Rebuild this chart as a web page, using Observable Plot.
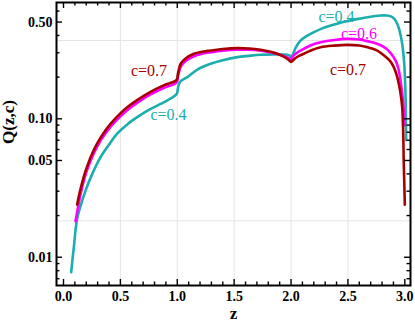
<!DOCTYPE html>
<html><head><meta charset="utf-8">
<script src="https://cdn.jsdelivr.net/npm/d3@7"></script>
<script src="https://cdn.jsdelivr.net/npm/@observablehq/plot@0.6"></script>
<style>html,body{margin:0;padding:0;background:#fff}#chart svg{display:block}</style>
</head><body><div id="chart"></div>
<script>
// ---- data ----
const z04 = [0.068,0.08,0.091,0.105,0.12,0.15,0.194,0.25,0.326,0.4,0.472,0.56,0.648,0.75,0.853,0.94,0.995,1.005,1.015,1.03,1.088,1.18,1.293,1.4,1.528,1.63,1.733,1.85,1.95,1.985,2.0,2.015,2.04,2.085,2.14,2.202,2.27,2.349,2.42,2.496,2.58,2.672,2.74,2.789,2.84,2.877,2.91,2.933,2.955,2.977,2.99,2.997,3.003,3.006,3.009,3.012];
const q04 = [0.0078,0.0098,0.0118,0.0155,0.019,0.0235,0.0303,0.0395,0.0528,0.065,0.078,0.091,0.1027,0.116,0.128,0.140,0.151,0.165,0.178,0.187,0.20,0.228,0.25,0.265,0.279,0.285,0.29,0.292,0.291,0.287,0.279,0.29,0.325,0.368,0.397,0.423,0.448,0.472,0.49,0.507,0.525,0.542,0.553,0.558,0.557,0.549,0.525,0.486,0.43,0.348,0.28,0.236,0.18,0.152,0.11,0.07];

const z06 = [0.106,0.15,0.2,0.267,0.33,0.413,0.5,0.56,0.65,0.765,0.88,0.994,1.005,1.015,1.03,1.07,1.146,1.22,1.293,1.4,1.528,1.63,1.733,1.82,1.88,1.94,1.975,2.0,2.012,2.04,2.08,2.114,2.18,2.26,2.38,2.496,2.6,2.672,2.75,2.818,2.87,2.918,2.945,2.962,2.978,2.991,2.998];
const q06 = [0.0182,0.0285,0.041,0.0565,0.0705,0.0875,0.104,0.1155,0.131,0.15,0.167,0.183,0.2,0.217,0.237,0.26,0.283,0.295,0.302,0.31,0.315,0.315,0.31,0.302,0.294,0.283,0.275,0.268,0.28,0.295,0.31,0.321,0.341,0.357,0.371,0.378,0.374,0.364,0.35,0.329,0.302,0.264,0.228,0.189,0.15,0.115,0.09];

const z07 = [0.12,0.15,0.2,0.267,0.33,0.413,0.5,0.56,0.65,0.765,0.88,0.994,1.005,1.015,1.03,1.07,1.146,1.22,1.293,1.4,1.528,1.63,1.733,1.82,1.88,1.94,1.975,2.0,2.012,2.04,2.08,2.114,2.18,2.26,2.38,2.496,2.6,2.672,2.75,2.818,2.87,2.903,2.93,2.947,2.965,2.977,2.985,2.991,2.996,3.0];
const q07 = [0.024,0.0312,0.0435,0.0597,0.0741,0.092,0.1095,0.121,0.137,0.1567,0.1745,0.191,0.21,0.228,0.25,0.272,0.295,0.305,0.311,0.319,0.324,0.322,0.315,0.305,0.295,0.28,0.268,0.257,0.262,0.275,0.287,0.295,0.313,0.329,0.338,0.342,0.338,0.329,0.313,0.287,0.262,0.236,0.205,0.179,0.148,0.121,0.085,0.047,0.033,0.024];

const seriesNames = ["c=0.4","c=0.6","c=0.7"];
const xTicksLabeled = [0,0.5,1,1.5,2,2.5,3];
const xTicksMinor = d3.range(0,31).map(i=>i/10).filter(v=>Math.abs(v*2-Math.round(v*2))>1e-9);
const yTicksLabeled = [0.01,0.05,0.1,0.5];
const yTicksMinor = [0.007,0.008,0.009,0.02,0.03,0.04,0.06,0.07,0.08,0.09,0.2,0.3,0.4,0.6];
const xGrid = [0.5,1,1.5,2,2.5];
const yGrid = [Math.exp(-1), Math.exp(-4)];

const labelText = ["c=0.7","c=0.4","c=0.4","c=0.6","c=0.7"];
const labelSeries = ["c=0.7","c=0.4","c=0.4","c=0.6","c=0.7"];
const labelZ = [0.752,0.923,2.40,2.597,2.501];
const labelQ = [0.2234,0.1074,0.548,0.413,0.227];

// ---- styles ----
const colors = {"c=0.4":"#1aaeae","c=0.6":"#ff00ff","c=0.7":"#a60000"};
const rows = [[z04,q04],[z06,q06],[z07,q07]].flatMap(([zs,qs],k)=>zs.map((z,i)=>({s:seriesNames[k], z, q:qs[i]})));
const labels = labelText.map((t,i)=>({t, s:labelSeries[i], z:labelZ[i], q:labelQ[i]}));

const W=415,H=327,mL=56,mR=5,mT=2,mB=42;
const pw=W-mL-mR, ph=H-mT-mB;
const tickW=1.4, maj=6, mnr=3.5;

const chart = Plot.plot({
  width:W, height:H, marginLeft:mL, marginRight:mR, marginTop:mT, marginBottom:mB,
  style:{fontFamily:"'Liberation Serif', 'Times New Roman', serif", fontSize:"14px", fontWeight:"bold", background:"#fff", color:"#000"},
  x:{domain:[-0.0615,3.05]},
  y:{type:"log", domain:[0.00625,0.692]},
  marks:[
    Plot.ruleX(xGrid,{x:d=>d, stroke:"#e4e4e4", strokeWidth:1}),
    Plot.ruleY(yGrid,{y:d=>d, stroke:"#e4e4e4", strokeWidth:1}),
    ...seriesNames.map(s=>Plot.line(rows.filter(r=>r.s===s),{x:"z", y:"q", stroke:colors[s], strokeWidth:2.6, curve:"catmull-rom"})),
    ...seriesNames.map(s=>Plot.text(labels.filter(l=>l.s===s),{x:"z", y:"q", text:"t", fill:colors[s], fontSize:16, fontWeight:"normal"})),
    // ticks (inward, on all four sides)
    Plot.tickX(xTicksLabeled,{x:d=>d, insetTop:ph-maj, strokeWidth:tickW}),
    Plot.tickX(xTicksMinor,{x:d=>d, insetTop:ph-mnr, strokeWidth:tickW}),
    Plot.tickX(xTicksLabeled,{x:d=>d, insetBottom:ph-maj, strokeWidth:tickW}),
    Plot.tickX(xTicksMinor,{x:d=>d, insetBottom:ph-mnr, strokeWidth:tickW}),
    Plot.tickY(yTicksLabeled,{y:d=>d, insetRight:pw-maj, strokeWidth:tickW}),
    Plot.tickY(yTicksMinor,{y:d=>d, insetRight:pw-mnr, strokeWidth:tickW}),
    Plot.tickY(yTicksLabeled,{y:d=>d, insetLeft:pw-maj, strokeWidth:tickW}),
    Plot.tickY(yTicksMinor,{y:d=>d, insetLeft:pw-mnr, strokeWidth:tickW}),
    Plot.frame({stroke:"#000", strokeWidth:2}),
    Plot.axisX({ticks:xTicksLabeled, tickFormat:d3.format(".1f"), tickSize:0, tickPadding:6, label:null, fontSize:14}),
    Plot.axisY({ticks:yTicksLabeled, tickFormat:d3.format(".2f"), tickSize:0, tickPadding:4, label:null, fontSize:14}),
    Plot.text(["z"],{frameAnchor:"bottom", dy:33, text:d=>d, fontSize:17, fontWeight:"bold"}),
    Plot.text(["Q(z,c)"],{frameAnchor:"left", dx:-48, rotate:-90, text:d=>d, fontSize:17, fontWeight:"bold"})
  ]
});
document.getElementById("chart").appendChild(chart);
</script>
</body></html>
